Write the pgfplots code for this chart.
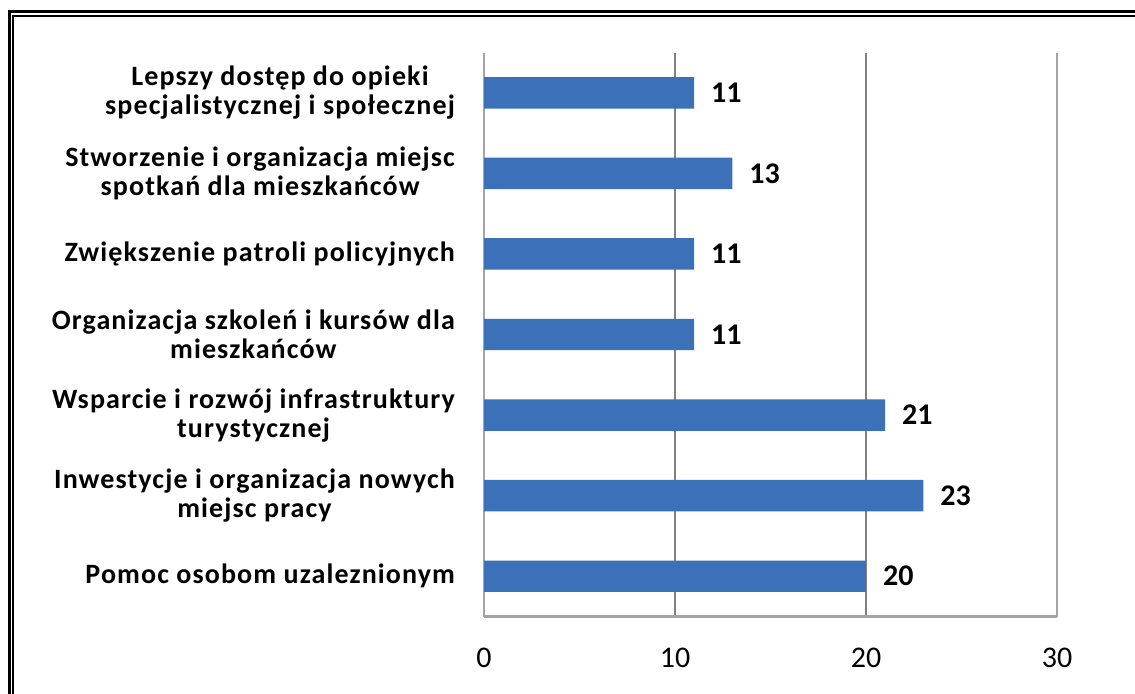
\documentclass[border=0pt]{standalone}
\usepackage{fontspec}
\setmainfont{Carlito}
\usepackage{pgfplots}
\pgfplotsset{compat=1.18}
\definecolor{barblue}{RGB}{60,113,186}
\definecolor{gridgray}{RGB}{128,128,128}
\definecolor{axgray}{RGB}{165,165,165}
\begin{document}
\begin{tikzpicture}
\clip (0,0) rectangle (567.5pt,346.5pt);
\fill[white] (0,0) rectangle (567.5pt,346.5pt);
% double frame (cut off on the right and at the bottom)
\draw[line width=1.7pt] (4.6pt,-2pt) |- (570pt,340.9pt);
\draw[line width=1.1pt] (6.6pt,-2pt) |- (570pt,338.6pt);
\begin{axis}[
    at={(242pt,38.25pt)}, anchor=south west,
    scale only axis, width=286.5pt, height=282pt,
    xbar, bar width=0.39,
    xmin=0, xmax=30, ymin=-0.5, ymax=6.5,
    xtick={0,10,20},
    extra x ticks={30},
    extra x tick style={major grid style={axgray, line width=1.3pt}},
    ytick={0,...,6},
    yticklabels={
        {Pomoc osobom uzaleznionym},
        {Inwestycje i organizacja nowych\\miejsc pracy},
        {Wsparcie i rozwój infrastruktury\\turystycznej},
        {Organizacja szkoleń i kursów dla\\mieszkańców},
        {Zwiększenie patroli policyjnych},
        {Stworzenie i organizacja miejsc\\spotkań dla mieszkańców},
        {Lepszy dostęp do opieki\\specjalistycznej i społecznej}},
    axis x line=bottom, axis y line=left,
    every outer x axis line/.append style={-},
    every outer y axis line/.append style={-},
    axis line style={axgray, line width=1.3pt},
    xmajorgrids=true,
    major grid style={gridgray, line width=0.9pt},
    major tick length=0pt,
    tick style={draw=none},
    yticklabel style={font=\bfseries\fontsize{14}{14.5}\selectfont\addfontfeatures{LetterSpace=4},
        align=center, xshift=-11pt},
    xticklabel style={font=\fontsize{15}{16}\selectfont, yshift=-12pt},
    /pgf/number format/assume math mode=true,
    nodes near coords,
    nodes near coords style={font=\bfseries\fontsize{15}{16}\selectfont, black, xshift=5pt},
]
\addplot[draw=none, fill=barblue] coordinates {
    (20,0) (23,1) (21,2) (11,3) (11,4) (13,5) (11,6)
};
\end{axis}
\end{tikzpicture}
\end{document}
